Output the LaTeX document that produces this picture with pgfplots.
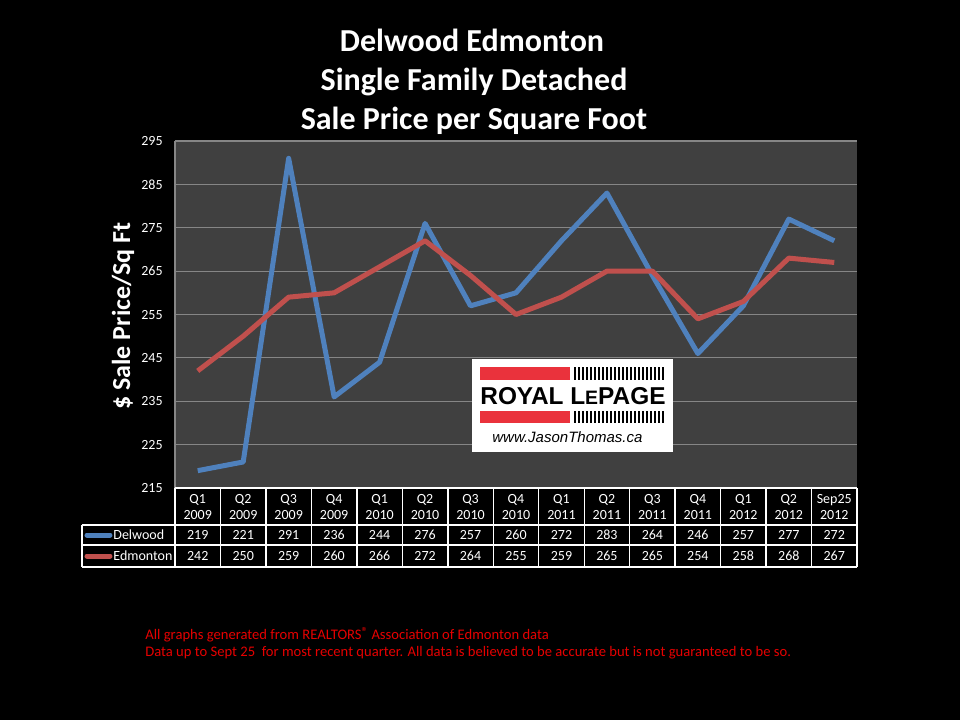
\documentclass[border=0pt]{standalone}
\usepackage{pgfplots}
\pgfplotsset{compat=1.18}
\usepackage{pgfplotstable}
\usepackage{fontspec}
\setmainfont{Carlito}
\newfontfamily\logofont{Liberation Sans}
\definecolor{plotbg}{RGB}{64,64,64}
\definecolor{gridc}{RGB}{134,134,134}
\definecolor{delblue}{RGB}{79,129,189}
\definecolor{edmred}{RGB}{192,80,77}
\definecolor{notered}{RGB}{230,0,0}
\definecolor{logored}{RGB}{234,50,60}

\pgfplotstableread{
x del edm
0 219 242
1 221 250
2 291 259
3 236 260
4 244 266
5 276 272
6 257 264
7 260 255
8 272 259
9 283 265
10 264 265
11 246 254
12 257 258
13 277 268
14 272 267
}\datatable

\newcommand{\tabfont}{\fontsize{7}{8}\selectfont}
\newcommand{\titlefont}{\fontsize{16}{19}\selectfont\bfseries}

\begin{document}
\begin{tikzpicture}
\begin{scope}[shift={(-87.5pt,244pt)}, x=0.5pt, y=-0.5pt]
\fill[black] (0,0) rectangle (960,720);
\useasboundingbox (0,0) rectangle (960,720);
\end{scope}
\begin{axis}[
 at={(0,0)}, anchor=south west,
 scale only axis, width=341pt, height=173.5pt,
 xmin=-0.5, xmax=14.5, ymin=215, ymax=295,
 xtick=\empty,
 ytick={215,225,...,295},
 ymajorgrids, major grid style={gridc, line width=0.6pt},
 axis line style={draw=none},
 axis background/.style={fill=plotbg},
 tick style={draw=none},
 yticklabel style={font=\tabfont, text=white, inner sep=0pt, xshift=-6pt},
 /pgf/number format/assume math mode=true,
]
\addplot[delblue, line width=2.5pt, line join=round] table[x=x,y=del]{\datatable};
\addplot[edmred, line width=2.5pt, line join=round] table[x=x,y=edm]{\datatable};
\end{axis}
\begin{scope}[shift={(-87.5pt,244pt)}, x=0.5pt, y=-0.5pt]
\draw[gridc, line width=0.6pt] (175,141) -- (175,488);
% titles
\node[anchor=base, inner sep=0pt, text=white, font=\titlefont] at (472,51) {Delwood Edmonton};
\node[anchor=base, inner sep=0pt, text=white, font=\titlefont] at (474,90) {Single Family Detached};
\node[anchor=base, inner sep=0pt, text=white, font=\titlefont] at (474,129) {Sale Price per Square Foot};
% y label
\node[rotate=90, inner sep=0pt, text=white, font=\fontsize{13}{15}\selectfont\bfseries] at (123,316) {\$ Sale Price/Sq Ft};
% table grid
\draw[white, line width=0.7pt] (175,488) -- (857,488);
\foreach \yy in {525,545,567} \draw[white, line width=0.7pt] (82,\yy) -- (857,\yy);
\draw[white, line width=0.7pt] (82,525) -- (82,567);
\foreach \i in {0,...,15} \draw[white, line width=0.7pt] ({175+\i*45.4667},488) -- ({175+\i*45.4667},567);
% header
\foreach [count=\i from 0] \q/\yr in {Q1/2009,Q2/2009,Q3/2009,Q4/2009,Q1/2010,Q2/2010,Q3/2010,Q4/2010,Q1/2011,Q2/2011,Q3/2011,Q4/2011,Q1/2012,Q2/2012,Sep25/2012} {
  \node[text=white, font=\tabfont, align=center, inner sep=0pt] at ({175+(\i+0.5)*45.4667},507) {\q\\\yr};
}
% values
\foreach \i in {0,...,14} {
  \pgfplotstablegetelem{\i}{del}\of\datatable
  \node[text=white, font=\tabfont, inner sep=0pt] at ({175+(\i+0.5)*45.4667},535) {\pgfplotsretval};
  \pgfplotstablegetelem{\i}{edm}\of\datatable
  \node[text=white, font=\tabfont, inner sep=0pt] at ({175+(\i+0.5)*45.4667},556) {\pgfplotsretval};
}
% legend keys
\draw[delblue, line width=2.5pt, line cap=round] (87,535) -- (110,535);
\node[anchor=west, inner sep=0pt, text=white, font=\tabfont] at (113,535) {Delwood};
\draw[edmred, line width=2.5pt, line cap=round] (87,556) -- (110,556);
\node[anchor=west, inner sep=0pt, text=white, font=\tabfont] at (113,556) {Edmonton};
% footnote
\node[anchor=base west, inner sep=0pt, text=notered, font=\fontsize{7.3}{8.5}\selectfont] at (145,639) {All graphs generated from REALTORS\raisebox{0.3ex}{\fontsize{6.5}{6.5}\selectfont ®} Association of Edmonton data};
\node[anchor=base west, inner sep=0pt, text=notered, font=\fontsize{7.3}{8.5}\selectfont] at (145,656) {Data up to Sept 25\ \ for most recent quarter. All data is believed to be accurate but is not guaranteed to be so.};
% logo
\fill[white] (472,359) rectangle (673,452);
\fill[logored] (480,367) rectangle (570,380);
\fill[logored] (480,411) rectangle (570,423);
\foreach \k in {0,...,22} {
  \draw[black, line width=0.7pt] ({575+4*\k},367) -- ({575+4*\k},380);
  \draw[black, line width=0.7pt] ({575+4*\k},411) -- ({575+4*\k},423);
}
\node[anchor=base west, inner sep=0pt, font=\logofont\bfseries\fontsize{12.2}{14}\selectfont] at (480,404) {ROYAL L{\fontsize{9.7}{10}\selectfont E}PAGE};
\node[anchor=base west, inner sep=0pt, font=\logofont\itshape\fontsize{7.5}{9}\selectfont] at (492,442) {www.JasonThomas.ca};
\end{scope}
\end{tikzpicture}
\end{document}
